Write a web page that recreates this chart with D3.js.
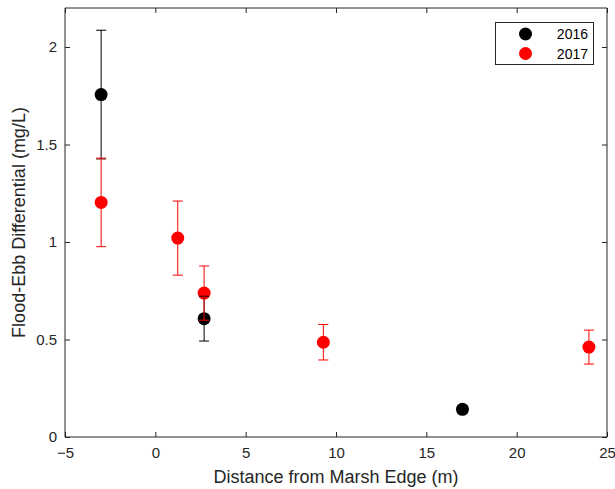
<!DOCTYPE html>
<html>
<head>
<meta charset="utf-8">
<script src="https://cdn.jsdelivr.net/npm/d3@7"></script>
<style>
  html, body { margin: 0; padding: 0; background: #fff; }
  svg { display: block; font-family: "Liberation Sans", Arial, Helvetica, sans-serif; }
</style>
</head>
<body>
<svg id="chart" width="615" height="489"></svg>
<script>
// Flood-ebb concentration differential versus distance from the marsh edge
const years = ["2016", "2017"];
const colors = ["#000000", "#ff0000"];

const dist2016 = [-3, 2.7, 17];
const mean2016 = [1.756, 0.607, 0.142];
const err2016  = [0.33, 0.115, 0.02];

const dist2017 = [-3, 1.24, 2.7, 9.3, 24];
const mean2017 = [1.203, 1.02, 0.738, 0.486, 0.461];
const err2017  = [0.227, 0.19, 0.139, 0.091, 0.087];

const xTicks = [-5, 0, 5, 10, 15, 20, 25];
const yTicks = [0, 0.5, 1, 1.5, 2];

const series = [
  { name: years[0], color: colors[0], x: dist2016, y: mean2016, e: err2016 },
  { name: years[1], color: colors[1], x: dist2017, y: mean2017, e: err2017 }
].map(s => ({ ...s, pts: s.x.map((d, i) => ({ x: d, y: s.y[i], e: s.e[i] })) }));

const svg = d3.select("#chart");
const m = { left: 65, right: 8, top: 8, bottom: 52 };
const W = 615, H = 489;
const axisColor = "#262626";

const x = d3.scaleLinear().domain([-5, 25]).range([m.left, W - m.right]);
const y = d3.scaleLinear().domain([0, 2.2]).range([H - m.bottom, m.top]);

const tickLen = 5;

// Box axes with inward ticks on all four sides
const gx = svg.append("g").attr("transform", `translate(0,${y(0)})`)
  .call(d3.axisBottom(x).tickValues(xTicks).tickSize(-tickLen).tickPadding(10).tickFormat(d3.format("")));
const gxTop = svg.append("g").attr("transform", `translate(0,${y(2.2)})`)
  .call(d3.axisTop(x).tickValues(xTicks).tickSize(-tickLen).tickFormat(""));
const gy = svg.append("g").attr("transform", `translate(${x(-5)},0)`)
  .call(d3.axisLeft(y).tickValues(yTicks).tickSize(-tickLen).tickPadding(8).tickFormat(d3.format("")));
const gyR = svg.append("g").attr("transform", `translate(${x(25)},0)`)
  .call(d3.axisRight(y).tickValues(yTicks).tickSize(-tickLen).tickFormat(""));

[gx, gxTop, gy, gyR].forEach(g => {
  g.select(".domain").attr("stroke", axisColor).attr("stroke-width", 1).attr("d", null);
  g.selectAll(".tick line").attr("stroke", axisColor);
  g.selectAll(".tick text").attr("fill", axisColor).style("font-size", "15px");
});
gx.select(".domain").attr("d", `M${x(-5)},0H${x(25)}`);
gxTop.select(".domain").attr("d", `M${x(-5)},0H${x(25)}`);
gy.select(".domain").attr("d", `M0,${y(0)}V${y(2.2)}`);
gyR.select(".domain").attr("d", `M0,${y(0)}V${y(2.2)}`);

// Axis titles
svg.append("text")
  .attr("x", (x(-5) + x(25)) / 2).attr("y", 483)
  .attr("text-anchor", "middle").attr("fill", axisColor)
  .style("font-size", "18px")
  .text("Distance from Marsh Edge (m)");

svg.append("text")
  .attr("transform", `translate(25,${(y(0) + y(2.2)) / 2}) rotate(-90)`)
  .attr("text-anchor", "middle").attr("fill", axisColor)
  .style("font-size", "18px")
  .text("Flood-Ebb Differential (mg/L)");

const r = 6.5, cap = 5;

// Markers
series.forEach(s => {
  svg.append("g").selectAll("circle").data(s.pts).join("circle")
    .attr("cx", d => x(d.x)).attr("cy", d => y(d.y))
    .attr("r", r).attr("fill", s.color);
});

// Error bars drawn on top of the markers
series.forEach(s => {
  const g = svg.append("g").attr("stroke", s.color).attr("stroke-width", 1).attr("fill", "none");
  g.selectAll("path").data(s.pts).join("path")
    .attr("d", d => {
      const cx = x(d.x), t = y(d.y + d.e), b = y(d.y - d.e);
      return `M${cx},${t}V${b}M${cx - cap},${t}H${cx + cap}M${cx - cap},${b}H${cx + cap}`;
    });
});

// Legend
const lg = svg.append("g");
lg.append("rect")
  .attr("x", 495.5).attr("y", 22.5).attr("width", 98).attr("height", 42)
  .attr("fill", "#fff").attr("stroke", axisColor).attr("stroke-width", 1);
series.forEach((s, i) => {
  const ly = 34 + i * 19.5;
  lg.append("circle").attr("cx", 525.5).attr("cy", ly).attr("r", r).attr("fill", s.color);
  lg.append("text").attr("x", 588).attr("y", ly + 5)
    .attr("text-anchor", "end").attr("fill", "#000").style("font-size", "14px")
    .text(s.name);
});
</script>
</body>
</html>
